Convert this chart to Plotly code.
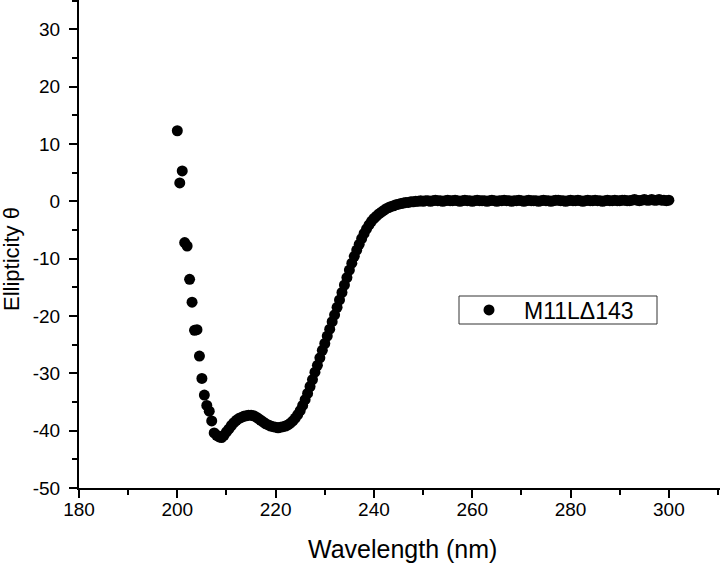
import plotly.graph_objects as go

series_name = "M11L\u0394143"

seg_far_uv = [12.3, 3.2, 5.3, -7.2, -7.8, -13.6, -17.6, -22.5, -22.4, -27.0,
              -30.9, -33.8, -35.6, -36.6, -38.3, -40.4, -40.8, -41.1, -41.2, -40.8]
seg_shoulder = [-40.2, -39.7, -39.1, -38.6, -38.2, -37.9, -37.7, -37.5, -37.4, -37.3,
                -37.3, -37.4, -37.6, -37.9, -38.2, -38.5, -38.8, -39.0, -39.2, -39.3,
                -39.4, -39.5, -39.4, -39.3, -39.2, -39.0, -38.7, -38.3, -37.8, -37.2]
seg_rise = [-36.5, -35.6, -34.6, -33.5, -32.3, -31.1, -29.8, -28.6, -27.3, -26.0,
            -24.8, -23.5, -22.3, -21.0, -19.8, -18.5, -17.2, -15.9, -14.6, -13.3,
            -12.0, -10.8, -9.6, -8.5, -7.5, -6.5, -5.6, -4.8, -4.1, -3.5,
            -3.0, -2.6, -2.2, -1.9, -1.6, -1.3, -1.1, -0.9, -0.8, -0.6,
            -0.5, -0.4, -0.3, -0.2, -0.2, -0.1, -0.1]
seg_flat = [0.0, 0.0, 0.1, 0.0, 0.1, 0.1, 0.0, 0.1, 0.2, 0.1,
            0.1, 0.0, 0.1, 0.2, 0.1, 0.1, 0.2, 0.1, 0.0, 0.1,
            0.2, 0.1, 0.1, 0.0, 0.1, 0.2, 0.1, 0.1, 0.1, 0.0,
            0.1, 0.2, 0.1, 0.0, 0.1, 0.1, 0.2, 0.1, 0.1, 0.0,
            0.1, 0.1, 0.2, 0.1, 0.0, 0.1, 0.2, 0.1, 0.1, 0.1,
            0.0, 0.1, 0.2, 0.1, 0.1, 0.0, 0.1, 0.2, 0.2, 0.1,
            0.1, 0.0, 0.1, 0.2, 0.1, 0.1, 0.2, 0.1, 0.0, 0.1,
            0.2, 0.1, 0.1, 0.2, 0.1, 0.1, 0.0, 0.1, 0.2, 0.1,
            0.1, 0.2, 0.1, 0.1, 0.2, 0.2, 0.1, 0.1, 0.2, 0.3,
            0.2, 0.1, 0.2, 0.3, 0.2, 0.2, 0.3, 0.2, 0.2, 0.3,
            0.2, 0.2, 0.1, 0.2]

ellipticity = seg_far_uv + seg_shoulder + seg_rise + seg_flat
start_nm = 200.0
step_nm = 0.5
wavelength = [start_nm + step_nm * i for i in range(len(ellipticity))]

x_tick_vals = [180, 200, 220, 240, 260, 280, 300]
x_tick_text = ["180", "200", "220", "240", "260", "280", "300"]
y_tick_vals = [-50, -40, -30, -20, -10, 0, 10, 20, 30]
y_tick_text = ["-50", "-40", "-30", "-20", "-10", "0", "10", "20", "30"]

FONT = "Liberation Sans, Arial, sans-serif"

fig = go.Figure()
fig.add_trace(go.Scatter(
    x=wavelength, y=ellipticity, mode="markers", name=series_name,
    marker=dict(color="black", size=11, line=dict(width=0)),
))

W, H = 720, 563
ml, mr, mt, mb = 79, 0, 0, 75
PW, PH = W - ml - mr, H - mt - mb


def px_x(p):
    return (p - ml) / PW


def px_y(p):
    return 1 - (p - mt) / PH


fig.update_layout(
    width=W, height=H,
    margin=dict(l=ml, r=mr, t=mt, b=mb, pad=0, autoexpand=False),
    paper_bgcolor="white", plot_bgcolor="white",
    font=dict(family=FONT, color="black", size=19),
    showlegend=True,
    legend=dict(
        x=px_x(454), y=px_y(310),
        xanchor="left", yanchor="middle",
        bgcolor="rgba(0,0,0,0)", borderwidth=0,
        font=dict(family=FONT, size=23, color="black"),
        itemwidth=60,
    ),
    xaxis=dict(
        range=[180, 310.4], tickvals=x_tick_vals, ticktext=x_tick_text,
        ticks="outside", ticklen=8, tickwidth=2, ticklabelstandoff=-5,
        tickcolor="black", showline=True, linecolor="black", linewidth=2,
        showgrid=False, zeroline=False, mirror=False, automargin=False,
        minor=dict(dtick=10, tick0=180, ticks="outside", ticklen=5, tickwidth=2, tickcolor="black", showgrid=False),
        tickfont=dict(size=19),
    ),
    yaxis=dict(
        range=[-50, 35.1], tickvals=y_tick_vals, ticktext=y_tick_text,
        ticks="outside", ticklen=8, tickwidth=2, ticklabelstandoff=5,
        tickcolor="black", showline=True, linecolor="black", linewidth=2,
        showgrid=False, zeroline=False, mirror=False, automargin=False,
        minor=dict(dtick=5, tick0=-50, ticks="outside", ticklen=5, tickwidth=2, tickcolor="black", showgrid=False),
        tickfont=dict(size=19),
    ),
    shapes=[dict(
        type="rect", xref="paper", yref="paper",
        x0=px_x(459), x1=px_x(657), y0=px_y(324), y1=px_y(296),
        line=dict(color="#333", width=1), fillcolor="rgba(0,0,0,0)", layer="below",
    )],
    annotations=[
        dict(
            text="Ellipticity \u03b8", textangle=-90, xref="paper", yref="paper",
            x=px_x(11), y=px_y(259),
            xanchor="center", yanchor="middle", showarrow=False,
            font=dict(family=FONT, size=22, color="black"),
        ),
        dict(
            text="Wavelength (nm)", xref="paper", yref="paper",
            x=px_x(402), y=px_y(549),
            xanchor="center", yanchor="middle", showarrow=False,
            font=dict(family=FONT, size=25, color="black"),
        ),
    ],
)

fig.write_html("out.html", config={"displayModeBar": False},
               post_script="document.body.style.margin='0';document.body.style.padding='0';")
